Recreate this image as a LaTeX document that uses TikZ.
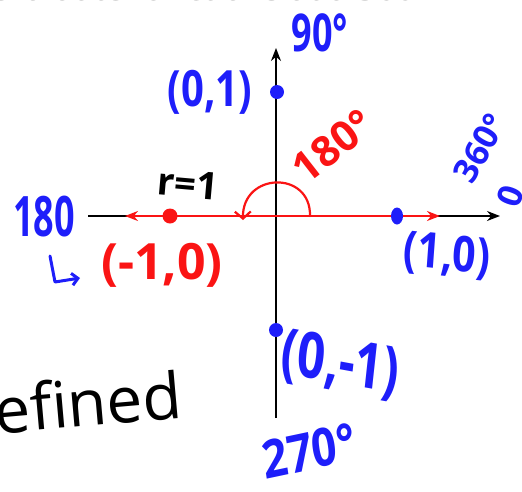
\documentclass[tikz,border=0pt]{standalone}
\usepackage{fontspec}
\setmainfont{Open Sans}
\usetikzlibrary{arrows.meta,shapes.geometric}
\definecolor{hblue}{RGB}{30,30,250}
\definecolor{hred}{RGB}{250,20,20}
\newcommand{\fsz}[1]{\fontsize{#1}{#1}\selectfont\bfseries}
\tikzset{
  axis/.style={black, line width=1.5pt},
  redline/.style={hred, line width=2.2pt},
  bluelbl/.style={text=hblue, inner sep=0pt},
  redlbl/.style={text=hred, inner sep=0pt},
  blacklbl/.style={text=black, inner sep=0pt},
  bluedot/.style={circle, fill=hblue, inner sep=0pt, minimum size=14pt},
  reddot/.style={circle, fill=hred, inner sep=0pt, minimum size=15pt},
}
\begin{document}
\begin{tikzpicture}[x=1pt, y=-1pt]
\useasboundingbox (0,0) rectangle (522,491);
% cut-off heading
\begin{scope}
\clip (0,0) rectangle (522,491);
\node[text=gray, anchor=base west, inner sep=0pt, font=\fontsize{34}{34}\selectfont] (head) at (-10,0.5) {evaluate functions at a 360};
\end{scope}
% axes
\coordinate (xl) at (88,216);
\coordinate (xr) at (500,216);
\coordinate (yt) at (276,48);
\coordinate (yb) at (276,418);
\coordinate (o) at (276,216);
\draw[axis, -{Stealth[length=13pt,width=10pt]}] (xl) -- (xr);
\draw[axis, -{Stealth[length=13pt,width=10pt]}] (yb) -- (yt);
% red radius line
\coordinate (rl) at (125,216);
\coordinate (rr) at (440,216);
\draw[redline, -{Stealth[length=13pt,width=10pt]}] (o) -- (rl);
\draw[redline, -{Stealth[length=13pt,width=10pt]}] (o) -- (rr);
% red turning arrow
\coordinate (a0) at (310,216);
\coordinate (a1) at (243,220);
\draw[redline, line cap=round, -{Straight Barb[length=7pt,width=16pt]}] (a0) .. controls (311,170) and (242,172) .. (a1);
% dots
\node[reddot] (m1) at (170,216) {};
\node[ellipse, fill=hblue, inner sep=0pt, minimum width=12pt, minimum height=17pt] (p1) at (397,216) {};
\node[bluedot] (q1) at (277,92) {};
\node[bluedot] (q2) at (276,330) {};
% labels
\node[bluelbl, font=\fsz{36}, yscale=1.45] (l90) at (320,33) {90°};
\node[bluelbl, font=\fsz{40}, yscale=1.25] (l01) at (210,92) {(0,1)};
\node[blacklbl, font=\fsz{38}, rotate=-5] (lr) at (188,184) {r=1};
\node[redlbl, font=\fsz{42}, rotate=38] (l180r) at (333,146) {180°};
\node[bluelbl, font=\fsz{34}, rotate=60] (l360) at (480,148) {360°};
\node[bluelbl, font=\fsz{34}, rotate=70] (l0) at (510,196) {0};
\node[bluelbl, font=\fsz{36}, yscale=1.55] (l180b) at (44,217) {180};
\node[redlbl, font=\fsz{50}] (lm10) at (162,265) {(-1,0)};
\node[bluelbl, font=\fsz{41}, yscale=1.2, rotate=-5] (l10) at (447,256) {(1,0)};
\node[bluelbl, font=\fsz{49}, yscale=1.3, rotate=-8] (l0m1) at (340,365) {(0,-1)};
\node[bluelbl, font=\fsz{44}, yscale=1.2, rotate=10] (l270) at (309,451) {270°};
\node[blacklbl, font=\fontsize{64}{64}\selectfont, rotate=5, anchor=west] (lund) at (-6,410) {efined};
% small blue hook arrow
\coordinate (h0) at (50,256);
\coordinate (h1) at (55,282);
\coordinate (h2) at (80,278);
\draw[hblue, line width=3pt, line cap=round, line join=round, -{Straight Barb[length=6pt,width=12pt]}] (h0) -- (h1) -- (h2);
\end{tikzpicture}
\end{document}
